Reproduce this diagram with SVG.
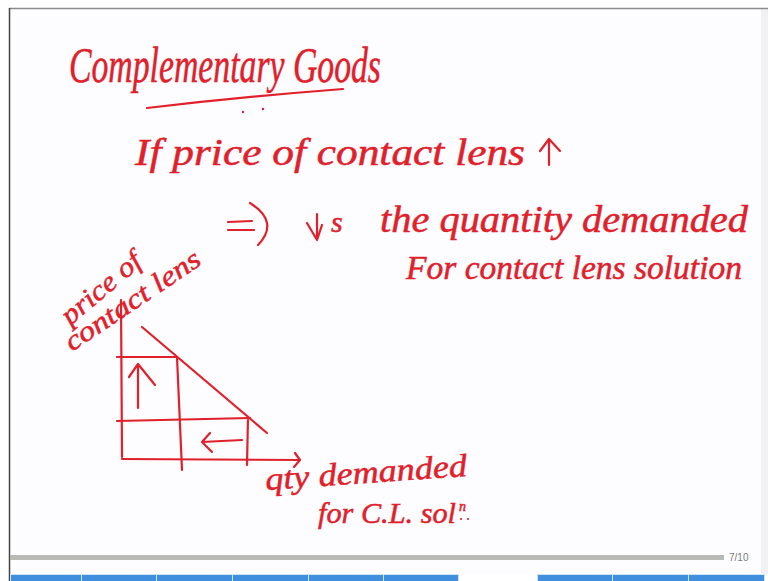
<svg xmlns="http://www.w3.org/2000/svg" width="768" height="581" viewBox="0 0 768 581">
  <defs>
    <style>
      .ink { fill: #e0202a; font-family: "Liberation Serif", "DejaVu Serif", serif; font-style: italic; stroke: #e0202a; stroke-width: 0.5; }
      .pen { fill: none; stroke: #e0202a; stroke-width: 2.2; stroke-linecap: round; stroke-linejoin: round; }
      .seg { fill: #3f8fde; stroke: #cfe3f7; stroke-width: 1; }
    </style>
  </defs>
  <rect width="768" height="581" fill="#ffffff"/>
  <rect x="10" y="9" width="752" height="565" fill="#fdfcfe"/>
  <rect x="761" y="9" width="7" height="565" fill="#f1f1f3"/>
  <line x1="9" y1="8.5" x2="768" y2="8.5" stroke="#8a8a8a" stroke-width="1.5"/>
  <line x1="9.5" y1="8" x2="9.5" y2="581" stroke="#444" stroke-width="1.5"/>

  <!-- scrollbar and page indicator -->
  <rect x="10" y="555" width="714" height="5" fill="#b9b9b6"/>
  <text x="729" y="561" font-family="Liberation Sans, sans-serif" font-size="10" fill="#7a7a80">7/10</text>

  <!-- taskbar -->
  <g id="taskbar">
    <rect class="seg" x="10.5" y="574.5" width="71" height="8"/>
    <rect class="seg" x="81.5" y="574.5" width="75" height="8"/>
    <rect class="seg" x="156.5" y="574.5" width="76" height="8"/>
    <rect class="seg" x="232.5" y="574.5" width="76" height="8"/>
    <rect class="seg" x="308.5" y="574.5" width="75" height="8"/>
    <rect class="seg" x="383.5" y="574.5" width="75" height="8"/>
    <rect class="seg" x="537.5" y="574.5" width="75" height="8"/>
    <rect class="seg" x="612.5" y="574.5" width="76" height="8"/>
    <rect class="seg" x="688.5" y="574.5" width="76" height="8"/>
  </g>

  <!-- title -->
  <g id="title">
    <text class="ink" x="69" y="82" font-size="50" textLength="312" lengthAdjust="spacingAndGlyphs">Complementary Goods</text>
    <path class="pen" d="M147,108 Q240,97 343,89"/>
    <circle cx="243" cy="112" r="1.2" fill="#e0202a"/>
    <circle cx="263" cy="109" r="1.2" fill="#e0202a"/>
  </g>

  <!-- statement -->
  <g id="line1">
    <text class="ink" x="135" y="165" font-size="38" textLength="390" lengthAdjust="spacingAndGlyphs">If price of contact lens</text>
    <path class="pen" d="M549,165 L549,140 M540,151 L549,139 L560,151"/>
  </g>
  <g id="line2">
    <path class="pen" d="M228,222 L252,221 M228,230 L254,230 M250,203 Q280,222 258,245"/>
    <path class="pen" d="M317,214 L317,240 M307,223 L317,240 L322,225"/>
    <text class="ink" x="331" y="232" font-size="30">s</text>
    <text class="ink" x="380" y="232" font-size="38" textLength="368" lengthAdjust="spacingAndGlyphs">the quantity demanded</text>
  </g>
  <g id="line3">
    <text class="ink" x="406" y="279" font-size="33" textLength="336" lengthAdjust="spacingAndGlyphs">For contact lens solution</text>
  </g>

  <!-- graph -->
  <g id="yaxis-label">
    <text class="ink" x="0" y="0" font-size="28" textLength="96" lengthAdjust="spacingAndGlyphs" transform="translate(70,326) rotate(-40)">price of</text>
    <text class="ink" x="0" y="0" font-size="28" textLength="158" lengthAdjust="spacingAndGlyphs" transform="translate(72,352) rotate(-34)">contact lens</text>
  </g>
  <g id="axes">
    <path class="pen" d="M121,300 L122,457"/>
    <path class="pen" d="M122,459 L300,460 M295,453 L300,460 L294,467"/>
  </g>
  <g id="demand-curve">
    <path class="pen" d="M142,327 L267,433"/>
  </g>
  <g id="guides">
    <path class="pen" d="M117,357 L177,357 M177,357 L182,470"/>
    <path class="pen" d="M117,421 L250,418 M248,417 L247,465"/>
  </g>
  <g id="arrows">
    <path class="pen" d="M138,408 L138,365 M129,377 L138,364 L155,385"/>
    <path class="pen" d="M242,440 L202,442 M210,433 L202,442 L212,452"/>
  </g>
  <g id="xaxis-label">
    <text class="ink" x="0" y="0" font-size="32" textLength="202" lengthAdjust="spacingAndGlyphs" transform="translate(266,490) rotate(-4)">qty demanded</text>
    <text class="ink" x="318" y="523" font-size="30" textLength="138" lengthAdjust="spacingAndGlyphs">for C.L. sol</text>
    <text class="ink" x="459" y="511" font-size="14">n</text>
    <circle cx="461" cy="519" r="1.1" fill="#e0202a"/>
    <circle cx="468" cy="519" r="1.1" fill="#e0202a"/>
  </g>
</svg>
